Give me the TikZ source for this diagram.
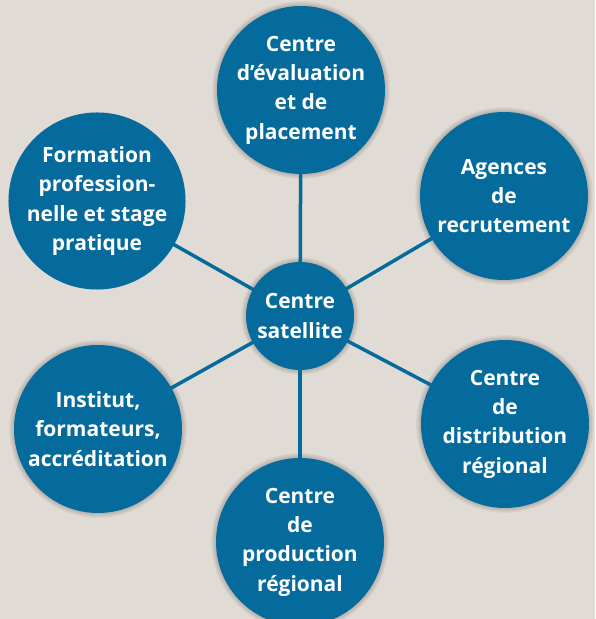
\documentclass[tikz,border=0pt]{standalone}
\usepackage{fontspec}
\setmainfont{Open Sans}
\definecolor{paper}{HTML}{E1DBD5}
\definecolor{hubblue}{HTML}{046B9C}
\pgfdeclarelayer{paperlayer}
\pgfdeclarelayer{shadowlayer}
\pgfdeclarelayer{spokes}
\pgfsetlayers{paperlayer,shadowlayer,spokes,main}
% soft drop shadow under a circular node: #1 node name, #2 radius in pt
\newcommand\castshadow[2]{%
  \begin{pgfonlayer}{shadowlayer}
    \foreach \k in {1,...,10}{
      \pgfmathsetmacro\rr{#2+6-1.2*\k}
      \fill[black, opacity=0.045, shift={(-5pt,-6pt)}] (#1.center) circle[radius=\rr pt];
    }
  \end{pgfonlayer}}
\begin{document}
\begin{tikzpicture}[x=1pt,y=1pt,
  bubble/.style={circle, fill=hubblue, text=white, align=center, inner sep=0pt,
    minimum size=#1, font=\fontsize{21}{29.3}\selectfont\bfseries},
  spoke/.style={draw=hubblue, line width=3.5pt}]
\useasboundingbox (0,0) rectangle (595,619);
\begin{pgfonlayer}{paperlayer}
  \fill[paper] (0,0) rectangle (595,619);
\end{pgfonlayer}

% hub and the six surrounding centres
\node[bubble=108pt] (hub) at (300,303) {Centre\\satellite};
\node[bubble=168pt] (eval) at (301,529) {Centre\\d’évaluation\\et de\\placement};
\node[bubble=168pt] (agences) at (504,423) {Agences\\de\\recrutement};
\node[bubble=168pt] (distrib) at (505,195) {Centre\\de\\distribution\\régional};
\node[bubble=168pt] (prod) at (300,77) {Centre\\de\\production\\régional};
\node[bubble=168pt] (institut) at (98,190) {Institut,\\formateurs,\\accréditation};
\node[bubble=168pt] (formation) at (97,418) {Formation\\profession-\\nelle et stage\\pratique};

\castshadow{hub}{54}
\foreach \n in {eval,agences,distrib,prod,institut,formation}{%
  \castshadow{\n}{84}}

% spokes behind the circles
\begin{pgfonlayer}{spokes}
  \foreach \n in {eval,agences,distrib,prod,institut,formation}
    \draw[spoke] (hub.center) -- (\n.center);
\end{pgfonlayer}
\end{tikzpicture}
\end{document}
